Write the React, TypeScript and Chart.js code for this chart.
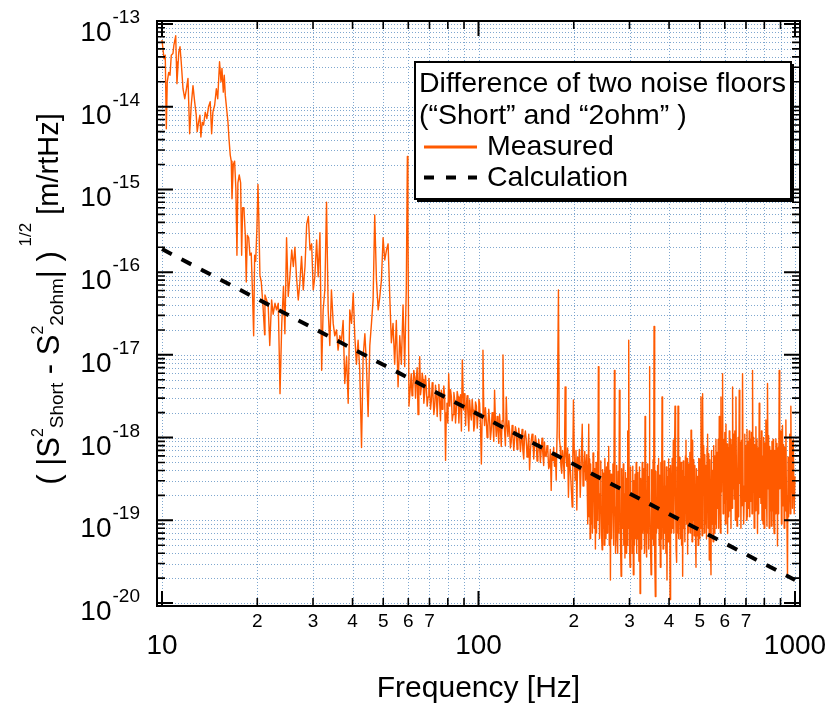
import React, { useEffect, useRef } from 'react';
import { Chart, registerables } from 'chart.js';

Chart.register(...registerables);

const FONT = '"Liberation Sans", Arial, Helvetica, sans-serif';
const ORANGE = '#ff5a00';
const GRID = 'rgba(95,145,195,0.8)';

// axis ranges (a few px of padding around 10..1000 and 1e-20..1e-13)
const X_MIN = 9.643;
const X_MAX = 1037;
const Y_MIN = 9.2e-21;
const Y_MAX = 1.087e-13;

const xDecadeStarts = [10, 100];
const xLastDecade = 1000;
const multipliers = [1, 2, 3, 4, 5, 6, 7, 8, 9];
const xLabeledMinor = [2, 3, 4, 5, 6, 7];
const yDecadeExponents = [-20, -19, -18, -17, -16, -15, -14, -13];

const legendTitle = ['Difference of two noise floors', '(\u201cShort\u201d and \u201c2ohm\u201d )'];
const xTitle = 'Frequency [Hz]';

// Calculation (dashed)
const calcHz = [10, 1000];
const calcAmp = [1.9e-16, 1.9e-20];

// Measured spectrum, 10-60 Hz [Hz, m/rtHz]
const measuredLow: [number, number][] = [
  [10.0, 6.4e-14], [10.15, 3.8e-14], [10.24, 4.2e-14], [10.32, 5.4e-15], [10.39, 2.0e-14],
  [10.5, 2.6e-14], [10.6, 2.4e-14], [10.7, 4.2e-14], [10.83, 4.4e-14], [10.9, 5.5e-14],
  [11.05, 7.2e-14], [11.1, 3.5e-14], [11.15, 1.9e-14], [11.3, 4.6e-14], [11.4, 5.3e-14],
  [11.5, 3.5e-14], [11.65, 1.65e-14], [11.8, 1.25e-14], [11.95, 1.65e-14], [12.08, 2.2e-14],
  [12.23, 4.7e-15], [12.37, 1.05e-14], [12.53, 1.8e-14], [12.68, 1.15e-14], [12.83, 7.9e-15],
  [12.92, 5.0e-15], [13.05, 6.5e-15], [13.18, 7.9e-15], [13.27, 4.3e-15], [13.4, 6.5e-15],
  [13.53, 6.0e-15], [13.7, 8.6e-15], [13.86, 7.2e-15], [14.03, 1.0e-14], [14.2, 1.15e-14],
  [14.35, 4.7e-15], [14.48, 8.6e-15], [14.67, 1.05e-14], [14.85, 1.65e-14], [15.0, 1.25e-14],
  [15.2, 3.5e-14], [15.36, 2.0e-14], [15.47, 2.9e-14], [15.62, 1.5e-14], [15.73, 2.4e-14],
  [15.85, 1.37e-14], [16.0, 9.5e-15], [16.16, 6.5e-15], [16.28, 4.1e-15], [16.43, 2.6e-15],
  [16.55, 2.2e-15], [16.64, 7.7e-16], [16.8, 2.0e-15], [16.96, 2.2e-15], [17.12, 1.0e-15],
  [17.25, 1.6e-16], [17.37, 1.2e-15], [17.54, 1.5e-15], [17.72, 1.2e-15], [17.85, 1.6e-16],
  [17.98, 6.0e-16], [18.15, 6.0e-16], [18.33, 2.8e-16], [18.46, 7.6e-17], [18.6, 2.8e-16],
  [18.79, 2.6e-16], [18.96, 1.6e-16], [19.14, 1.7e-16], [19.34, 4.8e-17], [19.48, 1.7e-17],
  [19.62, 1.6e-16], [19.77, 1.35e-16], [19.95, 3.4e-16], [20.1, 1.15e-15], [20.24, 4.0e-16],
  [20.39, 9.2e-17], [20.59, 7.6e-17], [20.84, 4.0e-17], [21.1, 1.75e-17], [21.15, 5.3e-17],
  [21.4, 4.6e-17], [21.65, 4.0e-17], [21.9, 1.3e-17], [22.2, 4.6e-17], [22.45, 3.1e-17],
  [22.75, 4.2e-17], [23.0, 3.5e-17], [23.3, 4.2e-17], [23.6, 3.4e-18], [23.9, 2.4e-17],
  [24.2, 6.7e-17], [24.45, 1.8e-17], [24.75, 2.6e-16], [25.05, 5.1e-17], [25.35, 8.8e-17],
  [25.7, 1.85e-16], [26.0, 1.17e-16], [26.3, 2.0e-16], [26.6, 8.8e-17], [26.95, 4.6e-17],
  [27.25, 7.3e-17], [27.6, 1.55e-16], [27.95, 6.1e-17], [28.3, 1.17e-16], [28.65, 3.8e-16],
  [29.0, 4.7e-16], [29.35, 1.85e-16], [29.7, 2.2e-16], [30.05, 6.1e-17], [30.4, 8.8e-17],
  [30.8, 2.45e-16], [31.15, 8.8e-17], [31.55, 3.0e-16], [31.95, 6.5e-18], [32.3, 3.5e-17],
  [32.7, 6.1e-17], [33.1, 7.0e-16], [33.5, 3.5e-17], [33.9, 1.3e-17], [34.3, 6.1e-17],
  [34.75, 2.4e-17], [35.15, 1.7e-17], [35.6, 2.0e-17], [36.0, 1.14e-17], [36.45, 1.7e-17],
  [36.9, 1.5e-17], [37.35, 2.6e-17], [37.8, 4.5e-18], [38.3, 9.5e-18], [38.75, 2.6e-18],
  [39.2, 3.5e-17], [39.7, 2.4e-17], [40.2, 5.6e-17], [40.65, 1.7e-17], [41.15, 7.7e-18],
  [41.65, 1.5e-17], [42.15, 6.5e-18], [42.7, 7.6e-19], [43.2, 9.5e-18], [43.75, 1.8e-17],
  [44.25, 7.7e-18], [44.8, 1.8e-18], [45.35, 1.3e-17], [45.9, 2.4e-17], [46.45, 4.6e-17],
  [47.0, 4.9e-16], [47.6, 8.0e-17], [48.2, 3.5e-17], [48.75, 5.0e-17], [49.35, 8.0e-17],
  [49.95, 2.6e-16], [50.55, 1.4e-16], [51.2, 1.85e-16], [51.8, 2.2e-16], [52.45, 5.0e-17],
  [53.05, 1.4e-17], [53.7, 2.4e-17], [54.35, 7.7e-18], [55.0, 2.6e-17], [55.7, 4.1e-18],
  [56.4, 1.7e-17], [57.05, 7.7e-18], [57.75, 4.0e-17], [58.45, 7.2e-18], [59.15, 6.7e-17],
  [59.6, 2.5e-15], [59.85, 4.0e-16], [60.3, 2.4e-18],
];

// Measured spectrum, 60-220 Hz
const measuredMid: [number, number][] = [
  [61.3, 5.9e-18], [61.65, 3.2e-18], [62.0, 3.75e-18], [62.45, 6.5e-18], [62.9, 5.4e-18],
  [63.25, 3.0e-18], [63.6, 5.0e-18], [64.0, 7.0e-18], [64.4, 1.9e-18], [64.8, 4.8e-18],
  [65.2, 9.5e-18], [65.6, 3.3e-18], [66.0, 4.1e-18], [66.4, 6.0e-18], [66.8, 5.0e-18],
  [67.2, 2.6e-18], [67.6, 3.4e-18], [68.0, 5.6e-18], [68.4, 4.1e-18], [68.85, 2.4e-18],
  [69.3, 3.1e-18], [69.7, 5.2e-18], [70.1, 3.75e-18], [70.55, 2.2e-18], [71.0, 2.85e-18],
  [71.4, 4.6e-18], [71.8, 3.4e-18], [72.25, 1.9e-18], [72.7, 2.4e-18], [73.15, 4.3e-18],
  [73.6, 3.1e-18], [74.05, 1.8e-18], [74.5, 3.4e-18], [74.95, 4.4e-18], [75.4, 2.6e-18],
  [75.85, 1.6e-18], [76.3, 3.75e-18], [76.75, 2.2e-18], [77.2, 2.85e-18], [77.7, 4.2e-18],
  [78.2, 3.1e-18], [78.7, 5.3e-19], [79.1, 2.0e-18], [79.5, 2.6e-18], [80.0, 1.5e-18],
  [80.5, 5.9e-18], [81.1, 2.4e-18], [81.6, 3.8e-18], [82.1, 3.1e-18], [82.6, 1.6e-18],
  [83.1, 1.9e-18], [83.6, 3.5e-18], [84.1, 2.85e-18], [84.6, 1.5e-18], [85.1, 2.15e-18],
  [85.65, 3.6e-18], [86.2, 3.1e-18], [86.7, 1.5e-18], [87.2, 2.6e-18], [87.75, 3.3e-18],
  [88.3, 1.2e-18], [88.9, 8.7e-18], [89.7, 2.15e-18], [90.15, 3.4e-18], [90.6, 2.6e-18],
  [91.05, 1.4e-18], [91.5, 2.4e-18], [92.05, 3.2e-18], [92.6, 1.9e-18], [93.2, 1.2e-18],
  [93.75, 2.85e-18], [94.3, 2.0e-18], [94.9, 1.63e-18], [95.5, 2.9e-18], [96.1, 2.15e-18],
  [96.65, 1.2e-18], [97.2, 1.45e-18], [97.85, 2.7e-18], [98.5, 2.4e-18], [99.1, 1.3e-18],
  [99.7, 1.9e-18], [100.25, 2.9e-18], [100.8, 2.6e-18], [101.45, 1.4e-18], [102.1, 4.8e-19],
  [102.7, 1.8e-18], [103.3, 1.14e-17], [103.9, 2.2e-18], [104.5, 1.4e-18], [105.15, 2.3e-18],
  [105.8, 1.63e-18], [106.45, 1.0e-18], [107.1, 1.4e-18], [107.75, 2.2e-18], [108.4, 1.63e-18],
  [109.05, 9.5e-19], [109.7, 1.23e-18], [110.4, 2.0e-18], [111.1, 1.45e-18], [111.75, 9.0e-19],
  [112.4, 3.75e-18], [113.1, 1.6e-18], [113.8, 1.03e-18], [114.5, 1.8e-18], [115.2, 1.23e-18],
  [115.9, 8.5e-19], [116.6, 1.9e-18], [117.3, 1.3e-18], [118.0, 7.8e-19], [118.75, 1.6e-18],
  [119.5, 1.0e-17], [120.2, 1.6e-18], [120.9, 1.2e-18], [121.65, 8.0e-19], [122.4, 3.1e-18],
  [123.15, 1.4e-18], [123.9, 1.03e-18], [124.65, 1.6e-18], [125.4, 1.2e-18], [126.15, 7.5e-19],
  [126.9, 8.8e-19], [127.7, 1.4e-18], [128.5, 1.03e-18], [129.25, 7.0e-19], [130.0, 9.3e-19],
  [130.8, 1.35e-18], [131.6, 1.2e-18], [132.4, 7.2e-19], [133.2, 8.8e-19], [134.0, 1.3e-18],
  [134.8, 1.03e-18], [135.65, 6.8e-19], [136.5, 9.3e-19], [137.3, 1.25e-18], [138.1, 7.1e-19],
  [138.95, 5.5e-19], [139.8, 1.03e-18], [140.65, 1.2e-18], [141.5, 9.3e-19], [142.4, 5.8e-19],
  [143.3, 7.8e-19], [144.15, 1.1e-18], [145.0, 4.05e-19], [145.9, 7.0e-19], [146.8, 9.3e-19],
  [147.7, 1.1e-18], [148.6, 8.8e-19], [149.45, 5.5e-19], [150.3, 7.8e-19], [151.25, 1.05e-18],
  [152.2, 8.8e-19], [153.1, 5.2e-19], [154.0, 6.4e-19], [154.95, 9.5e-19], [155.9, 7.8e-19],
  [156.85, 5.0e-19], [157.8, 7.1e-19], [158.75, 9.8e-19], [159.7, 6.4e-19], [160.65, 4.6e-19],
  [161.6, 8.8e-19], [162.6, 6.0e-19], [163.6, 5.9e-19], [164.6, 8.0e-19], [165.6, 7.1e-19],
  [166.6, 4.2e-19], [167.6, 4.5e-19], [168.65, 7.2e-19], [169.7, 2.3e-19], [170.75, 6.4e-19],
  [171.8, 5.3e-19], [172.8, 7.6e-19], [173.8, 4.5e-19], [174.9, 6.5e-19], [176.0, 3.06e-19],
  [177.3, 1.4e-18], [178.9, 6.1e-17], [180.0, 1.0e-18], [181.1, 7.8e-19], [182.15, 4.5e-19],
  [183.2, 3.7e-19], [184.35, 7.0e-19], [185.5, 5.3e-19], [186.65, 3.2e-19], [187.8, 4.1e-18],
  [188.95, 6.0e-19], [190.1, 4.5e-19], [191.25, 7.5e-19], [192.4, 1.9e-19], [193.6, 6.3e-19],
  [194.8, 4.5e-19], [196.25, 2.6e-19], [197.7, 1.45e-19], [198.6, 5.5e-19], [199.5, 2.85e-18],
  [200.75, 6.6e-19], [202.0, 3.06e-19], [203.25, 7.0e-19], [204.5, 1.33e-19], [205.75, 5.8e-19],
  [207.0, 4.05e-19], [208.3, 7.2e-19], [209.6, 1.9e-19], [211.15, 5.0e-19], [212.7, 1.45e-18],
  [213.95, 2.6e-19], [215.2, 3.7e-19], [216.6, 6.8e-19], [218.0, 3.06e-19],
];

// Measured spectrum, 220-1000 Hz
const measuredHigh: [number, number][] = [
  [219.8, 6.2e-19], [221.4, 9e-20], [223.0, 1.45e-18], [223.8, 1.1e-19], [224.5, 5.5e-19],
  [225.2, 6e-20], [226.1, 4.8e-19], [227.0, 9e-20], [227.9, 3.7e-19], [229.0, 7e-20],
  [230.1, 6.5e-19], [231.2, 5.3e-19], [232.2, 8e-20], [233.1, 4.2e-19], [234.1, 4.5e-20],
  [235.1, 5.0e-19], [236.0, 7e-20], [237.0, 3.1e-19], [237.7, 6.8e-19], [238.5, 1e-19],
  [239.2, 7.2e-18], [240.2, 2.6e-19], [241.2, 6e-20], [242.2, 2.1e-19], [243.4, 5.2e-19],
  [244.6, 7e-20], [245.8, 4.4e-20], [246.7, 4.1e-19], [247.7, 8e-20], [248.6, 3.7e-19],
  [249.6, 5e-20], [250.7, 5.6e-19], [251.7, 2.6e-19], [252.8, 6e-20], [253.8, 4.4e-19],
  [254.9, 7e-20], [255.9, 5.0e-19], [256.8, 9e-20], [257.8, 7.8e-19], [258.9, 5e-20],
  [260.0, 4.0e-19], [261.1, 1.9e-20], [262.2, 3.6e-19], [263.3, 6e-20], [264.4, 1.9e-19],
  [265.9, 4.8e-19], [267.3, 5e-20], [268.8, 6.5e-18], [269.9, 2.2e-19], [271.0, 4e-20],
  [272.1, 1.45e-19], [273.2, 4.6e-19], [274.2, 6e-20], [275.3, 4e-20], [276.4, 3.9e-19],
  [277.6, 7e-20], [278.7, 3.75e-18], [279.9, 2.5e-19], [281.0, 5e-20], [282.2, 2.1e-20],
  [283.3, 4.2e-19], [284.4, 8e-20], [285.5, 1.2e-19], [286.7, 4.8e-19], [287.8, 5e-20],
  [289.0, 2.1e-19], [290.2, 3.5e-20], [291.4, 3.8e-19], [292.6, 4e-20], [293.8, 3.2e-19],
  [295.0, 5e-20], [296.1, 1.2e-18], [297.2, 8e-20], [298.3, 1.5e-17], [299.3, 2.0e-19],
  [300.2, 4.5e-20], [301.2, 2.7e-20], [302.4, 4.4e-19], [303.6, 6e-20], [304.8, 2.1e-19],
  [306.0, 4e-20], [307.2, 4.5e-19], [308.5, 2.2e-20], [309.8, 3e-19], [311.1, 5e-20],
  [312.4, 3.6e-19], [313.6, 6e-20], [314.9, 5e-19], [316.1, 4e-20], [317.4, 3.8e-19],
  [318.7, 6e-20], [320.0, 1.75e-19], [321.3, 3.2e-20], [322.6, 4.4e-19], [324.0, 1.3e-20],
  [325.2, 3.2e-19], [326.5, 4.5e-20], [327.7, 1.2e-19], [329.1, 5e-19], [330.4, 7e-20],
  [331.8, 1.0e-19], [333.2, 4.2e-19], [334.5, 4e-20], [335.9, 1.8e-18], [337.2, 2.6e-19],
  [338.5, 5e-20], [339.8, 3.6e-20], [341.2, 4.8e-19], [342.6, 7e-20], [344.0, 2.6e-19],
  [344.9, 4.5e-20], [345.8, 3.4e-19], [346.6, 7.2e-18], [348.0, 2.4e-19], [349.5, 5e-20],
  [350.9, 2.2e-20], [352.3, 4.1e-19], [353.6, 6e-20], [355.0, 1.45e-19], [356.2, 5.4e-19],
  [357.4, 5e-20], [358.6, 2.2e-17], [359.7, 2e-19], [360.9, 4e-20], [362.0, 1.2e-20],
  [363.5, 3.9e-19], [365.0, 7e-20], [366.5, 1.0e-19], [367.9, 4.6e-19], [369.3, 8e-20],
  [370.7, 5.6e-19], [372.3, 5e-20], [373.8, 3.5e-19], [375.4, 2.7e-20], [377.0, 5e-19],
  [378.5, 6e-20], [380.1, 3.1e-18], [381.6, 2.6e-19], [383.0, 4.5e-20], [384.5, 5.8e-20],
  [386.1, 5.2e-19], [387.7, 7e-20], [389.3, 2.6e-19], [390.9, 4e-20], [392.4, 4.4e-19],
  [394.0, 1.9e-20], [395.6, 3.4e-19], [397.2, 5.5e-20], [398.8, 5.5e-19], [400.2, 6e-20],
  [401.6, 4.2e-19], [402.9, 1.1e-20], [404.5, 4.6e-19], [406.0, 7e-20], [407.6, 1.2e-19],
  [409.3, 5.6e-19], [410.9, 8e-20], [412.6, 9.3e-19], [414.3, 7e-20], [416.0, 4.8e-19],
  [417.7, 2.4e-18], [419.4, 2.2e-19], [421.0, 4.5e-20], [422.7, 3.1e-20], [424.1, 4.4e-19],
  [425.5, 7e-20], [426.9, 2.4e-18], [428.3, 3.2e-19], [429.6, 6e-20], [431.0, 1.9e-19],
  [432.8, 5.8e-19], [434.6, 6e-20], [436.4, 5e-19], [438.1, 5e-20], [439.8, 4e-19],
  [441.6, 2.1e-20], [443.4, 5.2e-19], [445.1, 8e-20], [446.9, 3.4e-19], [448.7, 5.5e-20],
  [450.6, 6e-19], [452.4, 9.3e-19], [454.2, 9e-20], [456.1, 5.6e-19], [457.9, 3.9e-20],
  [459.8, 4.8e-19], [461.6, 7e-20], [463.5, 2.1e-19], [465.4, 6.6e-19], [467.4, 7e-20],
  [469.3, 1.23e-18], [471.2, 2.8e-19], [473.0, 5.5e-20], [474.9, 9.3e-19], [476.8, 1e-19],
  [478.7, 5.4e-19], [480.6, 6.5e-20], [482.6, 4.6e-19], [484.6, 8e-20], [486.6, 2.7e-20],
  [488.5, 4.2e-19], [490.4, 6.5e-20], [492.3, 3.4e-19], [494.3, 5e-20], [496.4, 5.6e-19],
  [498.4, 6e-20], [500.5, 5.5e-19], [502.5, 8e-20], [504.6, 3.1e-18], [506.6, 3.2e-19],
  [508.6, 6.5e-20], [510.6, 3.4e-18], [512.7, 2.8e-19], [514.7, 8e-19], [516.8, 7e-20],
  [518.9, 6.2e-19], [521.1, 9e-20], [523.2, 4.6e-19], [525.3, 6e-20], [527.4, 7.5e-19],
  [529.5, 1.1e-18], [531.7, 8e-20], [533.8, 6.4e-19], [536.0, 3.3e-20], [538.2, 5.4e-19],
  [540.5, 7e-20], [542.7, 2.2e-20], [544.9, 7e-19], [547.0, 9e-20], [549.2, 4e-19],
  [551.4, 5.5e-20], [553.6, 8e-19], [555.8, 7e-20], [558.1, 6e-19], [560.4, 9e-20],
  [562.7, 9.5e-19], [564.9, 8e-20], [567.2, 6.6e-19], [569.4, 1.4e-19], [571.7, 9.5e-19],
  [574.0, 8e-20], [576.3, 1.8e-18], [578.7, 2.9e-19], [581.1, 7e-20], [583.5, 3.1e-18],
  [585.8, 2.2e-19], [588.1, 8.8e-19], [590.4, 5.9e-18], [592.8, 1.2e-19], [595.3, 9.5e-19],
  [597.7, 1.6e-19], [600.2, 1.15e-18], [602.6, 9e-20], [605.1, 1.45e-18], [607.5, 1.8e-19],
  [610.0, 8.4e-19], [612.4, 6.9e-20], [614.9, 7.6e-19], [617.3, 1.1e-19], [619.8, 1.2e-18],
  [622.4, 1.3e-19], [625.0, 9.5e-19], [627.6, 8e-20], [630.1, 8.2e-19], [632.6, 1.4e-19],
  [635.0, 4.1e-18], [637.6, 2.4e-19], [640.1, 1.1e-18], [642.7, 1.8e-19], [645.4, 1.2e-18],
  [648.0, 1e-19], [650.7, 3.1e-18], [653.3, 2.2e-19], [655.8, 8.5e-20], [658.4, 2.6e-19],
  [661.1, 1.0e-18], [663.8, 1.1e-19], [666.5, 3.75e-18], [669.3, 2.8e-19], [672.0, 8.8e-19],
  [674.8, 8e-20], [677.4, 9.2e-19], [680.0, 1.5e-19], [682.7, 5.9e-18], [685.5, 2.6e-19],
  [688.3, 9e-20], [691.1, 1.9e-19], [694.0, 1.1e-18], [696.8, 1.7e-19], [699.7, 8e-19],
  [702.5, 1e-19], [705.2, 1.25e-18], [708.0, 1.1e-19], [711.0, 9e-19], [713.8, 1.4e-19],
  [716.7, 1.2e-18], [719.6, 1.1e-19], [722.6, 9.6e-19], [725.6, 1.7e-19], [728.6, 1.15e-18],
  [731.4, 1.2e-19], [734.2, 6.5e-18], [737.2, 2.2e-19], [740.2, 1.0e-18], [743.2, 8e-20],
  [746.3, 8.2e-19], [749.3, 1.3e-19], [752.4, 1.35e-18], [755.3, 1.7e-19], [758.2, 9.5e-19],
  [761.2, 6.9e-20], [764.4, 7.5e-19], [767.6, 1.2e-19], [770.7, 2.6e-18], [773.9, 1.9e-19],
  [777.1, 9.2e-19], [780.3, 1.6e-19], [783.4, 1.2e-18], [786.4, 1e-19], [789.5, 6e-19],
  [792.7, 9e-20], [796.0, 1.0e-18], [799.2, 8e-20], [802.5, 8.6e-19], [805.8, 1.4e-19],
  [809.2, 1.63e-18], [812.4, 2.2e-19], [815.5, 8.5e-20], [818.7, 4.5e-18], [822.1, 2.4e-19],
  [825.4, 1.05e-18], [828.8, 8e-20], [832.2, 7.8e-19], [835.6, 1.3e-19], [839.1, 7e-19],
  [842.4, 8.5e-20], [845.7, 9e-19], [849.0, 1.3e-19], [852.5, 9.5e-19], [855.9, 1e-19],
  [859.4, 6.9e-20], [863.0, 7e-19], [866.5, 1.2e-19], [870.1, 9.6e-19], [873.5, 1.7e-19],
  [876.9, 8.5e-19], [880.3, 4.9e-20], [884.0, 7.5e-19], [887.6, 1.2e-19], [891.3, 6.5e-18],
  [895.0, 2.4e-19], [898.7, 1.2e-18], [902.4, 6e-19], [906.0, 9e-20], [909.5, 1.0e-18],
  [913.0, 1.4e-18], [916.7, 1.5e-19], [920.4, 8.2e-19], [924.2, 8e-20], [928.0, 7.6e-19],
  [931.8, 1.3e-19], [935.7, 1.63e-18], [939.4, 2e-19], [943.1, 9.5e-20], [946.8, 2.1e-20],
  [950.7, 5.8e-19], [954.5, 1.1e-19], [958.4, 4.2e-19], [962.4, 1.1e-18], [966.3, 1.2e-19],
  [970.3, 2.4e-18], [974.1, 2.2e-19], [977.9, 9e-19], [981.7, 1.4e-19], [987.8, 9.5e-19],
  [994.0, 1.2e-19], [1000, 3.4e-19],
];

const xTickValues: number[] = [];
for (const d of xDecadeStarts) for (const m of multipliers) xTickValues.push(d * m);
xTickValues.push(xLastDecade);

const yGridValues: number[] = [];
for (const e of yDecadeExponents) {
  if (e === yDecadeExponents[yDecadeExponents.length - 1]) {
    yGridValues.push(Math.pow(10, e));
  } else {
    for (const m of multipliers) yGridValues.push(m * Math.pow(10, e));
  }
}

function leadDigit(v: number): number {
  const e = Math.floor(Math.log10(v) + 1e-9);
  return Math.round(v / Math.pow(10, e));
}

function drawYTitle(ctx: CanvasRenderingContext2D, baseX: number, centerY: number) {
  const parts = [
    { t: '( |S', s: 31, d: 0 },
    { t: '2', s: 16, d: -16 },
    { t: 'Short', s: 19, d: 4 },
    { t: ' - S', s: 31, d: 0 },
    { t: '2', s: 16, d: -16 },
    { t: '2ohm', s: 19, d: 4 },
    { t: '| )', s: 31, d: 0 },
    { t: ' 1/2', s: 17, d: -28 },
    { t: ' [m/rtHz]', s: 29, d: -1 },
  ];
  ctx.save();
  ctx.translate(baseX, centerY);
  ctx.rotate(-Math.PI / 2);
  ctx.fillStyle = '#000';
  ctx.textBaseline = 'alphabetic';
  ctx.textAlign = 'left';
  let total = 0;
  const widths = parts.map((p) => {
    ctx.font = `${p.s}px ${FONT}`;
    const w = ctx.measureText(p.t).width;
    total += w;
    return w;
  });
  let x = -total / 2;
  parts.forEach((p, i) => {
    ctx.font = `${p.s}px ${FONT}`;
    ctx.fillText(p.t, x, p.d);
    x += widths[i];
  });
  ctx.restore();
}

const decorPlugin = {
  id: 'decor',
  beforeDatasetsDraw(chart: any) {
    const { ctx, chartArea: a, scales } = chart;
    ctx.save();
    ctx.beginPath();
    ctx.rect(a.left, a.top, a.right - a.left, a.bottom - a.top);
    ctx.clip();
    ctx.strokeStyle = GRID;
    ctx.lineWidth = 1;
    ctx.setLineDash([1, 2]);
    for (const v of xTickValues) {
      const p = Math.round(scales.x.getPixelForValue(v)) + 0.5;
      ctx.beginPath();
      ctx.moveTo(p, a.top);
      ctx.lineTo(p, a.bottom);
      ctx.stroke();
    }
    for (const v of yGridValues) {
      const p = Math.round(scales.y.getPixelForValue(v)) + 0.5;
      ctx.beginPath();
      ctx.moveTo(a.left, p);
      ctx.lineTo(a.right, p);
      ctx.stroke();
    }
    ctx.restore();
  },
  afterDatasetsDraw(chart: any) {
    const { ctx, chartArea: a, scales } = chart;
    ctx.save();
    ctx.setLineDash([]);
    ctx.strokeStyle = '#000';
    // inward tick marks on all four sides
    for (const v of xTickValues) {
      const major = leadDigit(v) === 1;
      const len = major ? 15 : 8;
      const p = scales.x.getPixelForValue(v);
      ctx.lineWidth = major ? 2 : 1.6;
      ctx.beginPath();
      ctx.moveTo(p, a.bottom);
      ctx.lineTo(p, a.bottom - len);
      ctx.moveTo(p, a.top);
      ctx.lineTo(p, a.top + len);
      ctx.stroke();
    }
    for (const v of yGridValues) {
      const major = leadDigit(v) === 1;
      const len = major ? 16 : 8;
      const p = scales.y.getPixelForValue(v);
      ctx.lineWidth = major ? 2 : 1.6;
      ctx.beginPath();
      ctx.moveTo(a.left, p);
      ctx.lineTo(a.left + len, p);
      ctx.moveTo(a.right, p);
      ctx.lineTo(a.right - len, p);
      ctx.stroke();
    }
    // frame
    ctx.lineWidth = 2;
    ctx.strokeRect(a.left, a.top, a.right - a.left, a.bottom - a.top);

    // y tick labels 10^n
    ctx.fillStyle = '#000';
    ctx.textBaseline = 'alphabetic';
    for (const e of yDecadeExponents) {
      const p = scales.y.getPixelForValue(Math.pow(10, e));
      ctx.font = `28px ${FONT}`;
      ctx.textAlign = 'right';
      ctx.fillText('10', a.left - 45.5, p + 17);
      ctx.font = `19px ${FONT}`;
      ctx.textAlign = 'left';
      ctx.fillText(String(e), a.left - 44.5, p - 1);
    }

    // axis titles
    drawYTitle(ctx, 59, 299);
    ctx.font = `30px ${FONT}`;
    ctx.textAlign = 'center';
    ctx.fillText(xTitle, (a.left + a.right) / 2, 697);

    // legend
    const lx = 415, ly = 62, lw = 376, lh = 137;
    ctx.fillStyle = '#000';
    ctx.fillRect(lx + 2, ly + 2, lw + 1, lh + 1);
    ctx.fillStyle = '#fff';
    ctx.fillRect(lx, ly, lw, lh);
    ctx.lineWidth = 2;
    ctx.strokeStyle = '#000';
    ctx.strokeRect(lx, ly, lw, lh);
    ctx.fillStyle = '#000';
    ctx.textAlign = 'left';
    ctx.font = `28.5px ${FONT}`;
    ctx.fillText(legendTitle[0], lx + 4, ly + 30);
    ctx.fillText(legendTitle[1], lx + 4, ly + 62);
    const ds = chart.data.datasets;
    const entries = [ds[1], ds[0]];
    entries.forEach((d: any, i: number) => {
      const yy = ly + 85 + i * 30.5;
      ctx.save();
      ctx.strokeStyle = d.borderColor;
      ctx.lineWidth = i === 0 ? 3 : 4;
      ctx.setLineDash(i === 0 ? [] : [10, 12]);
      ctx.beginPath();
      ctx.moveTo(lx + 9, yy);
      ctx.lineTo(lx + 62, yy);
      ctx.stroke();
      ctx.restore();
      ctx.fillText(d.label, lx + 72, yy + 8);
    });
    ctx.restore();
  },
};

export default function App() {
  const canvasRef = useRef<HTMLCanvasElement | null>(null);

  useEffect(() => {
    const canvas = canvasRef.current;
    if (!canvas) return;
    const measured = [...measuredLow, ...measuredMid, ...measuredHigh];
    const chart = new Chart(canvas, {
      type: 'line',
      data: {
        datasets: [
          {
            label: 'Calculation',
            data: calcHz.map((f, i) => ({ x: f, y: calcAmp[i] })),
            borderColor: '#000000',
            borderWidth: 4,
            borderDash: [11, 11],
            pointRadius: 0,
            tension: 0,
            order: 0,
          },
          {
            label: 'Measured',
            data: measured.map(([f, v]) => ({ x: f, y: v })),
            borderColor: ORANGE,
            borderWidth: 1.4,
            borderJoinStyle: 'round',
            pointRadius: 0,
            tension: 0,
            order: 1,
          },
        ],
      },
      options: {
        animation: false,
        responsive: false,
        devicePixelRatio: 1,
        events: [],
        layout: { padding: { top: 21, right: 33, left: 0, bottom: 0 } },
        plugins: {
          legend: { display: false },
          title: { display: false },
          tooltip: { enabled: false },
        },
        scales: {
          x: {
            type: 'logarithmic',
            position: 'bottom',
            min: X_MIN,
            max: X_MAX,
            grid: { display: false, drawTicks: false, tickLength: 0 },
            border: { display: false },
            afterBuildTicks: (scale: any) => {
              scale.ticks = xTickValues.map((v) => ({ value: v }));
            },
            afterFit: (scale: any) => {
              scale.height = 103;
            },
            ticks: {
              autoSkip: false,
              maxRotation: 0,
              minRotation: 0,
              padding: 5,
              color: '#000',
              font: (c: any) => {
                const v = c.tick ? c.tick.value : 10;
                return leadDigit(v) === 1
                  ? { family: FONT, size: 28, lineHeight: 0.85 }
                  : { family: FONT, size: 19, lineHeight: 1.15 };
              },
              callback: (value: any) => {
                const v = Number(value);
                const m = leadDigit(v);
                if (m === 1) return ['', String(Math.round(v))];
                if (xLabeledMinor.includes(m)) return String(m);
                return '';
              },
            },
          },
          y: {
            type: 'logarithmic',
            position: 'left',
            min: Y_MIN,
            max: Y_MAX,
            grid: { display: false, drawTicks: false, tickLength: 0 },
            border: { display: false },
            ticks: { display: false },
            afterFit: (scale: any) => {
              scale.width = 157;
            },
          },
        },
      } as any,
      plugins: [decorPlugin],
    });
    return () => chart.destroy();
  }, []);

  return (
    <div style={{ position: 'absolute', left: 0, top: 0, width: 833, height: 709, background: '#fff' }}>
      <canvas ref={canvasRef} width={833} height={709} style={{ display: 'block', width: 833, height: 709 }} />
    </div>
  );
}
